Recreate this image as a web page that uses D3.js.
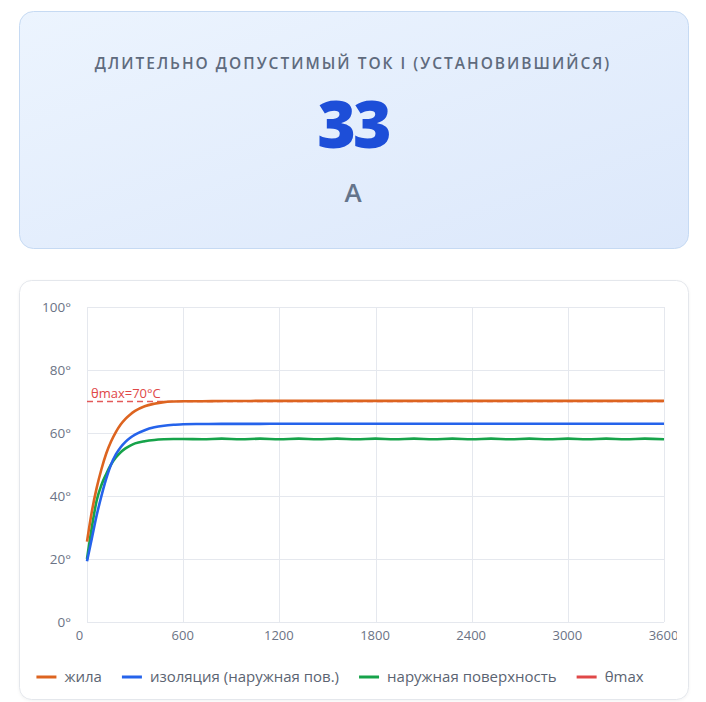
<!DOCTYPE html>
<html><head><meta charset="utf-8">
<script src="https://cdn.jsdelivr.net/npm/d3@7"></script>
<style>
html,body{margin:0;padding:0;background:#fff;}
svg{display:block;font-family:"Open Sans","Noto Sans",sans-serif;}
</style></head>
<body><svg id="c" width="706" height="702"></svg>
<script>
// ---- data ----
const kpiTitle = "ДЛИТЕЛЬНО ДОПУСТИМЫЙ ТОК I (УСТАНОВИВШИЙСЯ)";
const kpiValue = "33";
const kpiUnit = "А";

const times = [0,30,60,90,120,150,180,210,240,270,300,360,420,480,540,600,
  720,840,960,1080,1200,1320,1440,1560,1680,1800,1920,2040,2160,2280,2400,
  2520,2640,2760,2880,3000,3120,3240,3360,3480,3600];
const coreTemp = [25.5,35,42.5,48.5,53.5,57.3,60.3,62.7,64.5,65.9,67,68.5,69.3,69.8,70,70.1,
  70.1,70.15,70.15,70.2,70.2,70.2,70.2,70.2,70.2,70.2,70.2,70.2,70.2,70.2,70.2,
  70.2,70.2,70.2,70.2,70.2,70.2,70.2,70.2,70.2,70.2];
const insulTemp = [19.3,26.5,33.8,40,45.5,50,53.2,55.5,57.2,58.5,59.5,60.9,61.8,62.3,62.6,62.8,
  62.85,62.9,62.9,62.9,62.95,62.95,62.95,62.95,62.95,62.95,62.95,62.95,62.95,62.95,62.95,
  62.95,62.95,62.95,62.95,62.95,62.95,62.95,62.95,62.95,62.95];
const surfTemp = [20,30,38.5,43.5,47,50,52.2,53.9,55.1,56,56.7,57.4,57.8,58,58.1,58.1,
  58.0,58.2,58.0,58.2,58.0,58.2,58.0,58.2,58.0,58.2,58.0,58.2,58.0,58.2,58.0,
  58.2,58.0,58.2,58.0,58.2,58.0,58.2,58.0,58.2,58.0];
const thetaMax = 70;
const thetaLabel = "θmax=70°C";
const xTicks = [0,600,1200,1800,2400,3000,3600];
const yTicks = [0,20,40,60,80,100];
const seriesNames = ["жила","изоляция (наружная пов.)","наружная поверхность","θmax"];
const seriesColors = ["#dd6420","#2563eb","#16a34a","#e04848"];

// ---- drawing ----
const svg = d3.select("#c");
const defs = svg.append("defs");
const g1 = defs.append("linearGradient").attr("id","kpiGrad")
  .attr("x1","0%").attr("y1","0%").attr("x2","100%").attr("y2","100%");
g1.append("stop").attr("offset","0%").attr("stop-color","#ecf4fe");
g1.append("stop").attr("offset","100%").attr("stop-color","#dce8fb");

// KPI card
svg.append("rect").attr("x",19.5).attr("y",11.5).attr("width",669).attr("height",237)
  .attr("rx",14).attr("fill","url(#kpiGrad)").attr("stroke","#c6daf3").attr("stroke-width",1);
svg.append("text").attr("x",353).attr("y",69).attr("text-anchor","middle")
  .attr("font-size",15.5).attr("font-weight",600).attr("letter-spacing",2)
  .attr("fill","#5f6b7d").text(kpiTitle);
svg.append("text").attr("x",353).attr("y",148).attr("text-anchor","middle")
  .attr("font-size",66).attr("font-weight",800).attr("letter-spacing",-3)
  .attr("fill","#1d4ed8").text(kpiValue);
svg.append("text").attr("x",353).attr("y",202).attr("text-anchor","middle")
  .attr("font-size",26).attr("font-weight",600)
  .attr("fill","#64748b").text(kpiUnit);

// Chart card
defs.append("filter").attr("id","sh").append("feDropShadow")
  .attr("dx",0).attr("dy",1).attr("stdDeviation",1.5).attr("flood-color","#000").attr("flood-opacity",0.05);
svg.append("rect").attr("x",19.5).attr("y",280.5).attr("width",669).attr("height",419)
  .attr("rx",12).attr("fill","#fff").attr("stroke","#e4e7ec").attr("filter","url(#sh)");

const L = 87, R = 664, T = 307, B = 622;
const x = d3.scaleLinear().domain([0,3600]).range([L,R]);
const y = d3.scaleLinear().domain([0,100]).range([B,T]);

const grid = svg.append("g");
grid.selectAll(".hg").data(yTicks).join("line")
  .attr("x1",L).attr("x2",R).attr("y1",d=>Math.round(y(d))+0.5).attr("y2",d=>Math.round(y(d))+0.5)
  .attr("stroke","#e5e8ee").attr("stroke-width",1);
grid.selectAll(".vg").data(xTicks).join("line")
  .attr("y1",T).attr("y2",B).attr("x1",d=>Math.round(x(d))+0.5).attr("x2",d=>Math.round(x(d))+0.5)
  .attr("stroke","#e5e8ee").attr("stroke-width",1);

// axes labels
const yAxis = d3.axisLeft(y).tickValues(yTicks).tickFormat(d=>d+"°").tickSize(0).tickPadding(16);
const ya = svg.append("g").attr("transform",`translate(${L},0)`).call(yAxis);
ya.select(".domain").remove();
ya.selectAll("text").attr("font-size",13.5).attr("fill","#6b7385").attr("font-family","\"Open Sans\",sans-serif");

defs.append("clipPath").attr("id","xclip").append("rect").attr("x",0).attr("y",0).attr("width",677).attr("height",702);
const xAxis = d3.axisBottom(x).tickValues(xTicks).tickFormat(d3.format("d")).tickSize(0).tickPadding(9);
const xa = svg.append("g").attr("transform",`translate(0,${B})`).attr("clip-path","url(#xclip)").call(xAxis);
xa.select(".domain").remove();
xa.selectAll("text").attr("font-size",13).attr("fill","#6b7385").attr("font-family","\"Open Sans\",sans-serif")
  .attr("dx",(d,i)=> i===0 ? -8 : -1);

// theta max dashed line
svg.append("line").attr("x1",L).attr("x2",R).attr("y1",y(thetaMax)).attr("y2",y(thetaMax))
  .attr("stroke",seriesColors[3]).attr("stroke-width",1.3).attr("stroke-dasharray","6,4").attr("opacity",0.9);
svg.append("text").attr("x",L+4).attr("y",y(thetaMax)-4).attr("font-size",13)
  .attr("fill","#e04848").text(thetaLabel);

const line = d3.line().x((d,i)=>x(times[i])).y(d=>y(d)).curve(d3.curveMonotoneX);
[[surfTemp,2],[insulTemp,1],[coreTemp,0]].forEach(([arr,ci])=>{
  svg.append("path").datum(arr).attr("d",line).attr("fill","none")
    .attr("stroke",seriesColors[ci]).attr("stroke-width",2.6).attr("stroke-linejoin","round");
});

// legend
const lg = svg.append("g");
let cx = 0;
seriesNames.forEach((n,i)=>{
  const it = lg.append("g").attr("transform",`translate(${cx},0)`);
  it.append("line").attr("x1",0).attr("x2",20).attr("y1",0).attr("y2",0)
    .attr("stroke",seriesColors[i]).attr("stroke-width",3);
  const t = it.append("text").attr("x",28).attr("y",5).attr("font-size",15)
    .attr("fill","#5b6472").text(n);
  const w = t.node().getComputedTextLength();
  cx += 28 + w + 20;
});
const total = cx - 20;
lg.attr("transform",`translate(${340 - total/2},677)`);
</script></body></html>
